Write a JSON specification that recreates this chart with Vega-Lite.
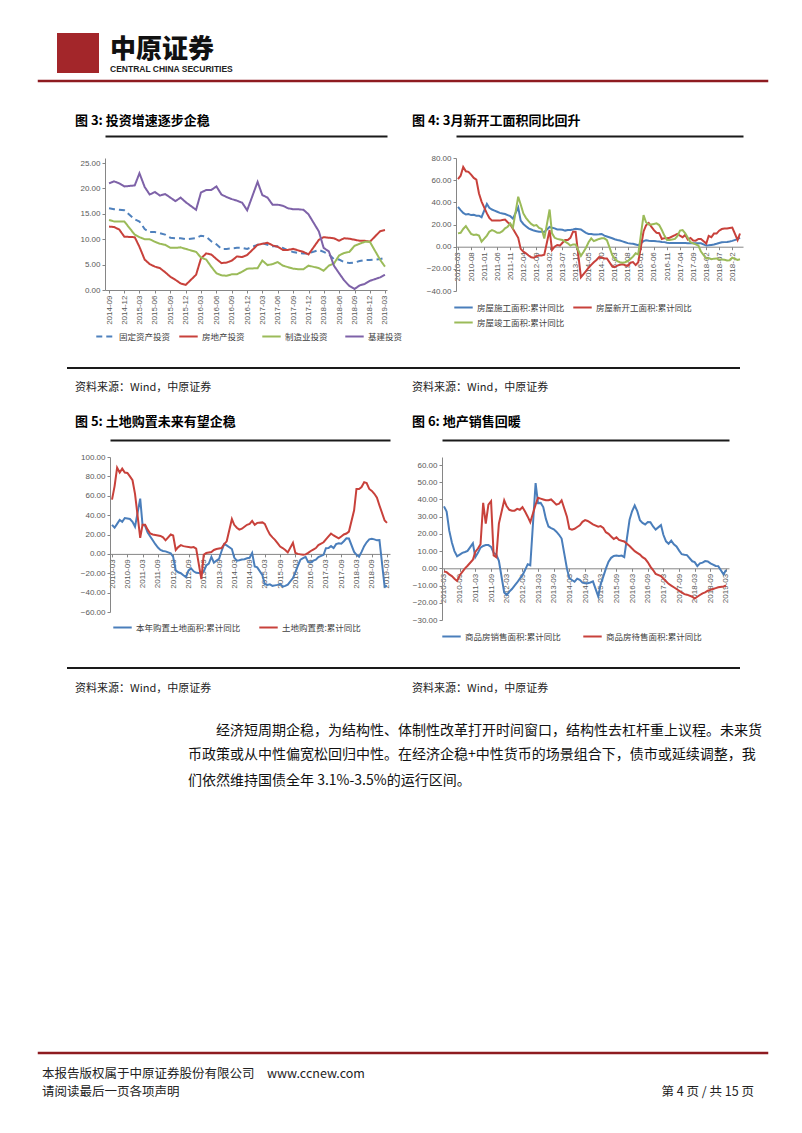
{
"$schema": "https://vega.github.io/schema/vega-lite/v6.json",
"background": "white",
"padding": {"left": 37, "top": 33, "right": 0, "bottom": 0},
"spacing": 0,
"resolve": {"scale": {"color": "independent", "strokeDash": "independent"}, "legend": {"color": "independent", "strokeDash": "independent"}},
"config": {
 "view": {"stroke": null, "fill": null},
 "font": "Noto Sans CJK SC",
 "axis": {"labelFont": "Liberation Sans", "labelFontSize": 8, "labelColor": "#595959", "domainColor": "#868686", "tickColor": "#868686", "tickSize": 3, "grid": false, "labelPadding": 2},
 "legend": {"labelFont": "Noto Sans CJK SC", "labelFontSize": 8.5, "labelColor": "#404040", "symbolStrokeWidth": 2, "symbolSize": 340, "labelOffset": 3, "padding": 0, "rowPadding": 0},
 "title": {"font": "Noto Sans CJK SC", "color": "#000"},
 "concat": {"spacing": 0}
},
"datasets": {
 "sep": [{"k": 0}],
 "names": [{"s":"A","name":"固定资产投资"},{"s":"B","name":"房地产投资"},{"s":"C","name":"制造业投资"},{"s":"D","name":"基建投资"},{"s":"E","name":"房屋施工面积:累计同比"},{"s":"F","name":"房屋新开工面积:累计同比"},{"s":"G","name":"房屋竣工面积:累计同比"},{"s":"H","name":"本年购置土地面积:累计同比"},{"s":"I","name":"土地购置费:累计同比"},{"s":"J","name":"商品房销售面积:累计同比"},{"s":"K","name":"商品房待售面积:累计同比"}],
 "c3": [
{"d":"2014-09","s":"A","v":16.1},{"d":"2014-10","s":"A","v":15.9},{"d":"2014-11","s":"A","v":15.8},{"d":"2014-12","s":"A","v":15.7},
{"d":"2015-02","s":"A","v":13.9},{"d":"2015-03","s":"A","v":13.5},{"d":"2015-04","s":"A","v":12.0},{"d":"2015-05","s":"A","v":11.4},{"d":"2015-06","s":"A","v":11.4},{"d":"2015-07","s":"A","v":11.2},{"d":"2015-08","s":"A","v":10.9},{"d":"2015-09","s":"A","v":10.3},{"d":"2015-10","s":"A","v":10.2},{"d":"2015-11","s":"A","v":10.2},{"d":"2015-12","s":"A","v":10.0},
{"d":"2016-02","s":"A","v":10.2},{"d":"2016-03","s":"A","v":10.7},{"d":"2016-04","s":"A","v":10.5},{"d":"2016-05","s":"A","v":9.6},{"d":"2016-06","s":"A","v":9.0},{"d":"2016-07","s":"A","v":8.1},{"d":"2016-08","s":"A","v":8.1},{"d":"2016-09","s":"A","v":8.2},{"d":"2016-10","s":"A","v":8.3},{"d":"2016-11","s":"A","v":8.3},{"d":"2016-12","s":"A","v":8.1},
{"d":"2017-02","s":"A","v":8.9},{"d":"2017-03","s":"A","v":9.2},{"d":"2017-04","s":"A","v":8.9},{"d":"2017-05","s":"A","v":8.6},{"d":"2017-06","s":"A","v":8.6},{"d":"2017-07","s":"A","v":8.3},{"d":"2017-08","s":"A","v":7.8},{"d":"2017-09","s":"A","v":7.5},{"d":"2017-10","s":"A","v":7.3},{"d":"2017-11","s":"A","v":7.2},{"d":"2017-12","s":"A","v":7.2},
{"d":"2018-02","s":"A","v":7.9},{"d":"2018-03","s":"A","v":7.5},{"d":"2018-04","s":"A","v":7.0},{"d":"2018-05","s":"A","v":6.1},{"d":"2018-06","s":"A","v":6.0},{"d":"2018-07","s":"A","v":5.5},{"d":"2018-08","s":"A","v":5.3},{"d":"2018-09","s":"A","v":5.4},{"d":"2018-10","s":"A","v":5.7},{"d":"2018-11","s":"A","v":5.9},{"d":"2018-12","s":"A","v":5.9},
{"d":"2019-02","s":"A","v":6.1},{"d":"2019-03","s":"A","v":6.3},
{"d":"2014-09","s":"B","v":12.5},{"d":"2014-10","s":"B","v":12.4},{"d":"2014-11","s":"B","v":11.9},{"d":"2014-12","s":"B","v":10.5},
{"d":"2015-02","s":"B","v":10.4},{"d":"2015-03","s":"B","v":8.5},{"d":"2015-04","s":"B","v":6.0},{"d":"2015-05","s":"B","v":5.1},{"d":"2015-06","s":"B","v":4.6},{"d":"2015-07","s":"B","v":4.3},{"d":"2015-08","s":"B","v":3.5},{"d":"2015-09","s":"B","v":2.6},{"d":"2015-10","s":"B","v":2.0},{"d":"2015-11","s":"B","v":1.3},{"d":"2015-12","s":"B","v":1.0},
{"d":"2016-02","s":"B","v":3.0},{"d":"2016-03","s":"B","v":6.2},{"d":"2016-04","s":"B","v":7.2},{"d":"2016-05","s":"B","v":7.0},{"d":"2016-06","s":"B","v":6.1},{"d":"2016-07","s":"B","v":5.3},{"d":"2016-08","s":"B","v":5.4},{"d":"2016-09","s":"B","v":5.8},{"d":"2016-10","s":"B","v":6.6},{"d":"2016-11","s":"B","v":6.5},{"d":"2016-12","s":"B","v":6.9},
{"d":"2017-02","s":"B","v":8.9},{"d":"2017-03","s":"B","v":9.1},{"d":"2017-04","s":"B","v":9.3},{"d":"2017-05","s":"B","v":8.8},{"d":"2017-06","s":"B","v":8.5},{"d":"2017-07","s":"B","v":7.9},{"d":"2017-08","s":"B","v":7.9},{"d":"2017-09","s":"B","v":8.1},{"d":"2017-10","s":"B","v":7.8},{"d":"2017-11","s":"B","v":7.5},{"d":"2017-12","s":"B","v":7.0},
{"d":"2018-02","s":"B","v":9.9},{"d":"2018-03","s":"B","v":10.4},{"d":"2018-04","s":"B","v":10.3},{"d":"2018-05","s":"B","v":10.2},{"d":"2018-06","s":"B","v":9.7},{"d":"2018-07","s":"B","v":10.2},{"d":"2018-08","s":"B","v":10.1},{"d":"2018-09","s":"B","v":9.9},{"d":"2018-10","s":"B","v":9.7},{"d":"2018-11","s":"B","v":9.7},{"d":"2018-12","s":"B","v":9.5},
{"d":"2019-02","s":"B","v":11.6},{"d":"2019-03","s":"B","v":11.8},
{"d":"2014-09","s":"C","v":13.8},{"d":"2014-10","s":"C","v":13.5},{"d":"2014-11","s":"C","v":13.5},{"d":"2014-12","s":"C","v":13.5},
{"d":"2015-02","s":"C","v":10.9},{"d":"2015-03","s":"C","v":10.4},{"d":"2015-04","s":"C","v":10.0},{"d":"2015-05","s":"C","v":10.0},{"d":"2015-06","s":"C","v":9.5},{"d":"2015-07","s":"C","v":9.1},{"d":"2015-08","s":"C","v":8.9},{"d":"2015-09","s":"C","v":8.3},{"d":"2015-10","s":"C","v":8.3},{"d":"2015-11","s":"C","v":8.4},{"d":"2015-12","s":"C","v":8.1},
{"d":"2016-02","s":"C","v":7.5},{"d":"2016-03","s":"C","v":6.4},{"d":"2016-04","s":"C","v":6.0},{"d":"2016-05","s":"C","v":4.6},{"d":"2016-06","s":"C","v":3.3},{"d":"2016-07","s":"C","v":2.9},{"d":"2016-08","s":"C","v":2.8},{"d":"2016-09","s":"C","v":3.1},{"d":"2016-10","s":"C","v":3.1},{"d":"2016-11","s":"C","v":3.6},{"d":"2016-12","s":"C","v":4.2},
{"d":"2017-02","s":"C","v":4.3},{"d":"2017-03","s":"C","v":5.8},{"d":"2017-04","s":"C","v":4.9},{"d":"2017-05","s":"C","v":5.1},{"d":"2017-06","s":"C","v":5.5},{"d":"2017-07","s":"C","v":4.8},{"d":"2017-08","s":"C","v":4.5},{"d":"2017-09","s":"C","v":4.2},{"d":"2017-10","s":"C","v":4.1},{"d":"2017-11","s":"C","v":4.1},{"d":"2017-12","s":"C","v":4.8},
{"d":"2018-02","s":"C","v":4.3},{"d":"2018-03","s":"C","v":3.8},{"d":"2018-04","s":"C","v":4.8},{"d":"2018-05","s":"C","v":5.2},{"d":"2018-06","s":"C","v":6.8},{"d":"2018-07","s":"C","v":7.3},{"d":"2018-08","s":"C","v":7.5},{"d":"2018-09","s":"C","v":8.7},{"d":"2018-10","s":"C","v":9.1},{"d":"2018-11","s":"C","v":9.5},{"d":"2018-12","s":"C","v":9.5},
{"d":"2019-02","s":"C","v":5.9},{"d":"2019-03","s":"C","v":4.6},
{"d":"2014-09","s":"D","v":21.0},{"d":"2014-10","s":"D","v":21.4},{"d":"2014-11","s":"D","v":21.0},{"d":"2014-12","s":"D","v":20.4},
{"d":"2015-02","s":"D","v":20.6},{"d":"2015-03","s":"D","v":23.0},{"d":"2015-04","s":"D","v":20.3},{"d":"2015-05","s":"D","v":18.8},{"d":"2015-06","s":"D","v":19.3},{"d":"2015-07","s":"D","v":18.6},{"d":"2015-08","s":"D","v":18.9},{"d":"2015-09","s":"D","v":18.2},{"d":"2015-10","s":"D","v":17.5},{"d":"2015-11","s":"D","v":18.2},{"d":"2015-12","s":"D","v":17.3},
{"d":"2016-02","s":"D","v":15.8},{"d":"2016-03","s":"D","v":19.2},{"d":"2016-04","s":"D","v":19.7},{"d":"2016-05","s":"D","v":19.7},{"d":"2016-06","s":"D","v":20.4},{"d":"2016-07","s":"D","v":18.8},{"d":"2016-08","s":"D","v":18.3},{"d":"2016-09","s":"D","v":17.9},{"d":"2016-10","s":"D","v":17.6},{"d":"2016-11","s":"D","v":17.2},{"d":"2016-12","s":"D","v":15.7},
{"d":"2017-02","s":"D","v":21.3},{"d":"2017-03","s":"D","v":18.7},{"d":"2017-04","s":"D","v":18.2},{"d":"2017-05","s":"D","v":16.8},{"d":"2017-06","s":"D","v":16.8},{"d":"2017-07","s":"D","v":16.6},{"d":"2017-08","s":"D","v":16.1},{"d":"2017-09","s":"D","v":15.9},{"d":"2017-10","s":"D","v":15.9},{"d":"2017-11","s":"D","v":15.8},{"d":"2017-12","s":"D","v":14.9},
{"d":"2018-02","s":"D","v":11.5},{"d":"2018-03","s":"D","v":8.3},{"d":"2018-04","s":"D","v":7.6},{"d":"2018-05","s":"D","v":4.8},{"d":"2018-06","s":"D","v":3.3},{"d":"2018-07","s":"D","v":1.9},{"d":"2018-08","s":"D","v":0.8},{"d":"2018-09","s":"D","v":0.2},{"d":"2018-10","s":"D","v":0.9},{"d":"2018-11","s":"D","v":1.2},{"d":"2018-12","s":"D","v":1.8},
{"d":"2019-02","s":"D","v":2.5},{"d":"2019-03","s":"D","v":3.0}
 ],
 "c4": [
{"d":"2010-03","s":"E","v":36},{"d":"2010-04","s":"E","v":33},{"d":"2010-05","s":"E","v":30.5},{"d":"2010-06","s":"E","v":29},{"d":"2010-07","s":"E","v":29.5},{"d":"2010-08","s":"E","v":28.5},{"d":"2010-09","s":"E","v":28.8},{"d":"2010-10","s":"E","v":28},{"d":"2010-11","s":"E","v":28},{"d":"2010-12","s":"E","v":26.6},
{"d":"2011-02","s":"E","v":38.6},{"d":"2011-03","s":"E","v":35},{"d":"2011-04","s":"E","v":33.5},{"d":"2011-05","s":"E","v":32.5},{"d":"2011-06","s":"E","v":31.5},{"d":"2011-07","s":"E","v":30.5},{"d":"2011-08","s":"E","v":30},{"d":"2011-09","s":"E","v":29.5},{"d":"2011-10","s":"E","v":28.5},{"d":"2011-11","s":"E","v":27.5},{"d":"2011-12","s":"E","v":25.3},
{"d":"2012-02","s":"E","v":35.3},{"d":"2012-03","s":"E","v":23.5},{"d":"2012-04","s":"E","v":20.5},{"d":"2012-05","s":"E","v":18.5},{"d":"2012-06","s":"E","v":16.5},{"d":"2012-07","s":"E","v":15.5},{"d":"2012-08","s":"E","v":14.5},{"d":"2012-09","s":"E","v":14},{"d":"2012-10","s":"E","v":13.5},{"d":"2012-11","s":"E","v":13.5},{"d":"2012-12","s":"E","v":13.2},
{"d":"2013-02","s":"E","v":17.8},{"d":"2013-03","s":"E","v":17},{"d":"2013-04","s":"E","v":16.5},{"d":"2013-05","s":"E","v":15.5},{"d":"2013-06","s":"E","v":15.5},{"d":"2013-07","s":"E","v":15.2},{"d":"2013-08","s":"E","v":14.5},{"d":"2013-09","s":"E","v":15},{"d":"2013-10","s":"E","v":15},{"d":"2013-11","s":"E","v":15.5},{"d":"2013-12","s":"E","v":16.1},
{"d":"2014-02","s":"E","v":15.5},{"d":"2014-03","s":"E","v":14},{"d":"2014-04","s":"E","v":12.5},{"d":"2014-05","s":"E","v":11.5},{"d":"2014-06","s":"E","v":11.5},{"d":"2014-07","s":"E","v":11},{"d":"2014-08","s":"E","v":11},{"d":"2014-09","s":"E","v":11.2},{"d":"2014-10","s":"E","v":11.5},{"d":"2014-11","s":"E","v":10},{"d":"2014-12","s":"E","v":9.2},
{"d":"2015-02","s":"E","v":7.6},{"d":"2015-03","s":"E","v":6.7},{"d":"2015-04","s":"E","v":6.0},{"d":"2015-05","s":"E","v":5.5},{"d":"2015-06","s":"E","v":4.8},{"d":"2015-07","s":"E","v":4.0},{"d":"2015-08","s":"E","v":3.2},{"d":"2015-09","s":"E","v":2.8},{"d":"2015-10","s":"E","v":2.7},{"d":"2015-11","s":"E","v":2.0},{"d":"2015-12","s":"E","v":1.3},
{"d":"2016-02","s":"E","v":5.0},{"d":"2016-03","s":"E","v":5.8},{"d":"2016-04","s":"E","v":5.3},{"d":"2016-05","s":"E","v":5.2},{"d":"2016-06","s":"E","v":5.1},{"d":"2016-07","s":"E","v":4.8},{"d":"2016-08","s":"E","v":4.6},{"d":"2016-09","s":"E","v":4.3},{"d":"2016-10","s":"E","v":4.1},{"d":"2016-11","s":"E","v":3.6},{"d":"2016-12","s":"E","v":3.2},
{"d":"2017-02","s":"E","v":3.2},{"d":"2017-03","s":"E","v":3.2},{"d":"2017-04","s":"E","v":3.3},{"d":"2017-05","s":"E","v":3.2},{"d":"2017-06","s":"E","v":3.2},{"d":"2017-07","s":"E","v":3.1},{"d":"2017-08","s":"E","v":3.0},{"d":"2017-09","s":"E","v":3.0},{"d":"2017-10","s":"E","v":3.0},{"d":"2017-11","s":"E","v":3.0},{"d":"2017-12","s":"E","v":3.0},
{"d":"2018-02","s":"E","v":1.0},{"d":"2018-03","s":"E","v":1.2},{"d":"2018-04","s":"E","v":1.6},{"d":"2018-05","s":"E","v":2.0},{"d":"2018-06","s":"E","v":2.6},{"d":"2018-07","s":"E","v":3.3},{"d":"2018-08","s":"E","v":3.9},{"d":"2018-09","s":"E","v":4.1},{"d":"2018-10","s":"E","v":4.3},{"d":"2018-11","s":"E","v":4.6},{"d":"2018-12","s":"E","v":5.2},
{"d":"2019-02","s":"E","v":6.8},{"d":"2019-03","s":"E","v":8.2},
{"d":"2010-03","s":"F","v":61},{"d":"2010-04","s":"F","v":64},{"d":"2010-05","s":"F","v":72},{"d":"2010-06","s":"F","v":68},{"d":"2010-07","s":"F","v":67.5},{"d":"2010-08","s":"F","v":65},{"d":"2010-09","s":"F","v":62},{"d":"2010-10","s":"F","v":60.5},{"d":"2010-11","s":"F","v":48},{"d":"2010-12","s":"F","v":40.7},
{"d":"2011-02","s":"F","v":30},{"d":"2011-03","s":"F","v":26},{"d":"2011-04","s":"F","v":23.5},{"d":"2011-05","s":"F","v":23.5},{"d":"2011-06","s":"F","v":23.5},{"d":"2011-07","s":"F","v":23.5},{"d":"2011-08","s":"F","v":24},{"d":"2011-09","s":"F","v":24.5},{"d":"2011-10","s":"F","v":22},{"d":"2011-11","s":"F","v":20},{"d":"2011-12","s":"F","v":16.2},
{"d":"2012-02","s":"F","v":8},{"d":"2012-03","s":"F","v":-2},{"d":"2012-04","s":"F","v":-4.5},{"d":"2012-05","s":"F","v":-6},{"d":"2012-06","s":"F","v":-8},{"d":"2012-07","s":"F","v":-9.5},{"d":"2012-08","s":"F","v":-10},{"d":"2012-09","s":"F","v":-8.5},{"d":"2012-10","s":"F","v":-8},{"d":"2012-11","s":"F","v":-8},{"d":"2012-12","s":"F","v":-7.3},
{"d":"2013-02","s":"F","v":15},{"d":"2013-03","s":"F","v":-3},{"d":"2013-04","s":"F","v":0},{"d":"2013-05","s":"F","v":1.5},{"d":"2013-06","s":"F","v":1},{"d":"2013-07","s":"F","v":3.5},{"d":"2013-08","s":"F","v":6},{"d":"2013-09","s":"F","v":6},{"d":"2013-10","s":"F","v":8},{"d":"2013-11","s":"F","v":13.5},{"d":"2013-12","s":"F","v":13.5},
{"d":"2014-02","s":"F","v":-27.6},{"d":"2014-03","s":"F","v":-25},{"d":"2014-04","s":"F","v":-22},{"d":"2014-05","s":"F","v":-19},{"d":"2014-06","s":"F","v":-16.4},{"d":"2014-07","s":"F","v":-14},{"d":"2014-08","s":"F","v":-12},{"d":"2014-09","s":"F","v":-9.3},{"d":"2014-10","s":"F","v":-9.7},{"d":"2014-11","s":"F","v":-10.7},{"d":"2014-12","s":"F","v":-10.7},
{"d":"2015-02","s":"F","v":-17.7},{"d":"2015-03","s":"F","v":-18.4},{"d":"2015-04","s":"F","v":-17.1},{"d":"2015-05","s":"F","v":-16.3},{"d":"2015-06","s":"F","v":-15.8},{"d":"2015-07","s":"F","v":-16.8},{"d":"2015-08","s":"F","v":-17.4},{"d":"2015-09","s":"F","v":-14.5},{"d":"2015-10","s":"F","v":-13.9},{"d":"2015-11","s":"F","v":-16.6},{"d":"2015-12","s":"F","v":-14.0},
{"d":"2016-02","s":"F","v":13.7},{"d":"2016-03","s":"F","v":19.2},{"d":"2016-04","s":"F","v":21.4},{"d":"2016-05","s":"F","v":18.1},{"d":"2016-06","s":"F","v":14.9},{"d":"2016-07","s":"F","v":12.5},{"d":"2016-08","s":"F","v":12.2},{"d":"2016-09","s":"F","v":6.9},{"d":"2016-10","s":"F","v":7.7},{"d":"2016-11","s":"F","v":7.6},{"d":"2016-12","s":"F","v":8.1},
{"d":"2017-02","s":"F","v":10.4},{"d":"2017-03","s":"F","v":11.6},{"d":"2017-04","s":"F","v":9.9},{"d":"2017-05","s":"F","v":8.4},{"d":"2017-06","s":"F","v":10.6},{"d":"2017-07","s":"F","v":6.4},{"d":"2017-08","s":"F","v":7.9},{"d":"2017-09","s":"F","v":5.6},{"d":"2017-10","s":"F","v":5.4},{"d":"2017-11","s":"F","v":6.9},{"d":"2017-12","s":"F","v":7.0},
{"d":"2018-02","s":"F","v":2.9},{"d":"2018-03","s":"F","v":9.7},{"d":"2018-04","s":"F","v":8.5},{"d":"2018-05","s":"F","v":11.8},{"d":"2018-06","s":"F","v":11.8},{"d":"2018-07","s":"F","v":14.4},{"d":"2018-08","s":"F","v":15.9},{"d":"2018-09","s":"F","v":16.4},{"d":"2018-10","s":"F","v":16.3},{"d":"2018-11","s":"F","v":16.8},{"d":"2018-12","s":"F","v":17.2},
{"d":"2019-02","s":"F","v":6.0},{"d":"2019-03","s":"F","v":11.9},
{"d":"2010-03","s":"G","v":12},{"d":"2010-04","s":"G","v":12.5},{"d":"2010-05","s":"G","v":16},{"d":"2010-06","s":"G","v":18.5},{"d":"2010-07","s":"G","v":15},{"d":"2010-08","s":"G","v":11.5},{"d":"2010-09","s":"G","v":10.5},{"d":"2010-10","s":"G","v":11},{"d":"2010-11","s":"G","v":10},{"d":"2010-12","s":"G","v":4.5},
{"d":"2011-02","s":"G","v":10},{"d":"2011-03","s":"G","v":13.5},{"d":"2011-04","s":"G","v":15},{"d":"2011-05","s":"G","v":14},{"d":"2011-06","s":"G","v":12.5},{"d":"2011-07","s":"G","v":12.5},{"d":"2011-08","s":"G","v":14},{"d":"2011-09","s":"G","v":16.5},{"d":"2011-10","s":"G","v":18},{"d":"2011-11","s":"G","v":21},{"d":"2011-12","s":"G","v":17},
{"d":"2012-02","s":"G","v":45},{"d":"2012-03","s":"G","v":38},{"d":"2012-04","s":"G","v":30},{"d":"2012-05","s":"G","v":26},{"d":"2012-06","s":"G","v":23},{"d":"2012-07","s":"G","v":20.5},{"d":"2012-08","s":"G","v":19},{"d":"2012-09","s":"G","v":19.5},{"d":"2012-10","s":"G","v":17},{"d":"2012-11","s":"G","v":16},{"d":"2012-12","s":"G","v":7.3},
{"d":"2013-02","s":"G","v":33.5},{"d":"2013-03","s":"G","v":12},{"d":"2013-04","s":"G","v":8},{"d":"2013-05","s":"G","v":7},{"d":"2013-06","s":"G","v":6.5},{"d":"2013-07","s":"G","v":6},{"d":"2013-08","s":"G","v":4.5},{"d":"2013-09","s":"G","v":3},{"d":"2013-10","s":"G","v":1},{"d":"2013-11","s":"G","v":2},{"d":"2013-12","s":"G","v":2},
{"d":"2014-02","s":"G","v":-8.3},{"d":"2014-03","s":"G","v":-5},{"d":"2014-04","s":"G","v":-1},{"d":"2014-05","s":"G","v":4},{"d":"2014-06","s":"G","v":7.5},{"d":"2014-07","s":"G","v":5},{"d":"2014-08","s":"G","v":6},{"d":"2014-09","s":"G","v":7},{"d":"2014-10","s":"G","v":7.5},{"d":"2014-11","s":"G","v":7.5},{"d":"2014-12","s":"G","v":5.9},
{"d":"2015-02","s":"G","v":-7.5},{"d":"2015-03","s":"G","v":-11},{"d":"2015-04","s":"G","v":-13},{"d":"2015-05","s":"G","v":-14},{"d":"2015-06","s":"G","v":-14.5},{"d":"2015-07","s":"G","v":-14},{"d":"2015-08","s":"G","v":-13},{"d":"2015-09","s":"G","v":-11},{"d":"2015-10","s":"G","v":-9},{"d":"2015-11","s":"G","v":-6},{"d":"2015-12","s":"G","v":-6.9},
{"d":"2016-02","s":"G","v":28.5},{"d":"2016-03","s":"G","v":22},{"d":"2016-04","s":"G","v":20},{"d":"2016-05","s":"G","v":20},{"d":"2016-06","s":"G","v":20.5},{"d":"2016-07","s":"G","v":21},{"d":"2016-08","s":"G","v":19.5},{"d":"2016-09","s":"G","v":15},{"d":"2016-10","s":"G","v":10},{"d":"2016-11","s":"G","v":6},{"d":"2016-12","s":"G","v":6.1},
{"d":"2017-02","s":"G","v":7},{"d":"2017-03","s":"G","v":9.5},{"d":"2017-04","s":"G","v":14.5},{"d":"2017-05","s":"G","v":15},{"d":"2017-06","s":"G","v":12},{"d":"2017-07","s":"G","v":8},{"d":"2017-08","s":"G","v":4},{"d":"2017-09","s":"G","v":3},{"d":"2017-10","s":"G","v":2},{"d":"2017-11","s":"G","v":1},{"d":"2017-12","s":"G","v":-4.4},
{"d":"2018-02","s":"G","v":-10.8},{"d":"2018-03","s":"G","v":-10.3},{"d":"2018-04","s":"G","v":-11.3},{"d":"2018-05","s":"G","v":-10.8},{"d":"2018-06","s":"G","v":-10.6},{"d":"2018-07","s":"G","v":-11.6},{"d":"2018-08","s":"G","v":-11.6},{"d":"2018-09","s":"G","v":-11.9},{"d":"2018-10","s":"G","v":-12.5},{"d":"2018-11","s":"G","v":-12.3},{"d":"2018-12","s":"G","v":-10},
{"d":"2019-02","s":"G","v":-11.9},{"d":"2019-03","s":"G","v":-11.4}
 ],
 "c5": [
{"d":"2010-03","s":"H","v":30},{"d":"2010-04","s":"H","v":27},{"d":"2010-05","s":"H","v":31},{"d":"2010-06","s":"H","v":35},{"d":"2010-07","s":"H","v":33},{"d":"2010-08","s":"H","v":37},{"d":"2010-09","s":"H","v":36.5},{"d":"2010-10","s":"H","v":36},{"d":"2010-11","s":"H","v":33},{"d":"2010-12","s":"H","v":28},
{"d":"2011-02","s":"H","v":57},{"d":"2011-03","s":"H","v":30},{"d":"2011-04","s":"H","v":29},{"d":"2011-05","s":"H","v":22},{"d":"2011-06","s":"H","v":18},{"d":"2011-07","s":"H","v":14},{"d":"2011-08","s":"H","v":10},{"d":"2011-09","s":"H","v":6.5},{"d":"2011-10","s":"H","v":4},{"d":"2011-11","s":"H","v":3},{"d":"2011-12","s":"H","v":2.6},
{"d":"2012-02","s":"H","v":0.5},{"d":"2012-03","s":"H","v":-3},{"d":"2012-04","s":"H","v":-17},{"d":"2012-05","s":"H","v":-19},{"d":"2012-06","s":"H","v":-20},{"d":"2012-07","s":"H","v":-22},{"d":"2012-08","s":"H","v":-24},{"d":"2012-09","s":"H","v":-17},{"d":"2012-10","s":"H","v":-15},{"d":"2012-11","s":"H","v":-18},{"d":"2012-12","s":"H","v":-19.5},
{"d":"2013-02","s":"H","v":-20},{"d":"2013-03","s":"H","v":-18},{"d":"2013-04","s":"H","v":-12},{"d":"2013-05","s":"H","v":-10},{"d":"2013-06","s":"H","v":-3},{"d":"2013-07","s":"H","v":-9},{"d":"2013-08","s":"H","v":-7},{"d":"2013-09","s":"H","v":-5},{"d":"2013-10","s":"H","v":3},{"d":"2013-11","s":"H","v":10},{"d":"2013-12","s":"H","v":8.8},
{"d":"2014-02","s":"H","v":5},{"d":"2014-03","s":"H","v":-3.8},{"d":"2014-04","s":"H","v":-7},{"d":"2014-05","s":"H","v":-6.5},{"d":"2014-06","s":"H","v":-5.8},{"d":"2014-07","s":"H","v":-5.5},{"d":"2014-08","s":"H","v":-4.5},{"d":"2014-09","s":"H","v":-4},{"d":"2014-10","s":"H","v":1},{"d":"2014-11","s":"H","v":-13},{"d":"2014-12","s":"H","v":-14},
{"d":"2015-02","s":"H","v":-22},{"d":"2015-03","s":"H","v":-31},{"d":"2015-04","s":"H","v":-32},{"d":"2015-05","s":"H","v":-31.5},{"d":"2015-06","s":"H","v":-33},{"d":"2015-07","s":"H","v":-32.5},{"d":"2015-08","s":"H","v":-32},{"d":"2015-09","s":"H","v":-31},{"d":"2015-10","s":"H","v":-33.8},{"d":"2015-11","s":"H","v":-33},{"d":"2015-12","s":"H","v":-31.7},
{"d":"2016-02","s":"H","v":-25},{"d":"2016-03","s":"H","v":-19},{"d":"2016-04","s":"H","v":-12},{"d":"2016-05","s":"H","v":-6},{"d":"2016-06","s":"H","v":-4.5},{"d":"2016-07","s":"H","v":-3},{"d":"2016-08","s":"H","v":-8.5},{"d":"2016-09","s":"H","v":-8.9},{"d":"2016-10","s":"H","v":-7},{"d":"2016-11","s":"H","v":-6},{"d":"2016-12","s":"H","v":-3.4},
{"d":"2017-02","s":"H","v":-1},{"d":"2017-03","s":"H","v":5.8},{"d":"2017-04","s":"H","v":6},{"d":"2017-05","s":"H","v":8},{"d":"2017-06","s":"H","v":6},{"d":"2017-07","s":"H","v":10},{"d":"2017-08","s":"H","v":11},{"d":"2017-09","s":"H","v":10.5},{"d":"2017-10","s":"H","v":13},{"d":"2017-11","s":"H","v":16},{"d":"2017-12","s":"H","v":15.8},
{"d":"2018-02","s":"H","v":2},{"d":"2018-03","s":"H","v":-1},{"d":"2018-04","s":"H","v":-3},{"d":"2018-05","s":"H","v":2},{"d":"2018-06","s":"H","v":8},{"d":"2018-07","s":"H","v":12},{"d":"2018-08","s":"H","v":15},{"d":"2018-09","s":"H","v":15.5},{"d":"2018-10","s":"H","v":15},{"d":"2018-11","s":"H","v":14},{"d":"2018-12","s":"H","v":14.2},
{"d":"2019-02","s":"H","v":-34},{"d":"2019-03","s":"H","v":-33.1},
{"d":"2010-03","s":"I","v":56},{"d":"2010-04","s":"I","v":70},{"d":"2010-05","s":"I","v":89},{"d":"2010-06","s":"I","v":84},{"d":"2010-07","s":"I","v":88},{"d":"2010-08","s":"I","v":84},{"d":"2010-09","s":"I","v":83.5},{"d":"2010-10","s":"I","v":80},{"d":"2010-11","s":"I","v":76},{"d":"2010-12","s":"I","v":62},
{"d":"2011-02","s":"I","v":16.5},{"d":"2011-03","s":"I","v":30},{"d":"2011-04","s":"I","v":30},{"d":"2011-05","s":"I","v":25},{"d":"2011-06","s":"I","v":21},{"d":"2011-07","s":"I","v":20},{"d":"2011-08","s":"I","v":19.5},{"d":"2011-09","s":"I","v":19},{"d":"2011-10","s":"I","v":18.5},{"d":"2011-11","s":"I","v":17},{"d":"2011-12","s":"I","v":14},
{"d":"2012-02","s":"I","v":20},{"d":"2012-03","s":"I","v":19},{"d":"2012-04","s":"I","v":4},{"d":"2012-05","s":"I","v":7},{"d":"2012-06","s":"I","v":9},{"d":"2012-07","s":"I","v":8},{"d":"2012-08","s":"I","v":7.5},{"d":"2012-09","s":"I","v":7},{"d":"2012-10","s":"I","v":6.5},{"d":"2012-11","s":"I","v":7},{"d":"2012-12","s":"I","v":5.5},
{"d":"2013-02","s":"I","v":-26},{"d":"2013-03","s":"I","v":-1},{"d":"2013-04","s":"I","v":1},{"d":"2013-05","s":"I","v":1.5},{"d":"2013-06","s":"I","v":2},{"d":"2013-07","s":"I","v":4},{"d":"2013-08","s":"I","v":5},{"d":"2013-09","s":"I","v":5.5},{"d":"2013-10","s":"I","v":6},{"d":"2013-11","s":"I","v":10},{"d":"2013-12","s":"I","v":13},
{"d":"2014-02","s":"I","v":36},{"d":"2014-03","s":"I","v":30},{"d":"2014-04","s":"I","v":27},{"d":"2014-05","s":"I","v":25},{"d":"2014-06","s":"I","v":26},{"d":"2014-07","s":"I","v":28},{"d":"2014-08","s":"I","v":30},{"d":"2014-09","s":"I","v":31},{"d":"2014-10","s":"I","v":34},{"d":"2014-11","s":"I","v":30},{"d":"2014-12","s":"I","v":32},
{"d":"2015-02","s":"I","v":32.5},{"d":"2015-03","s":"I","v":31},{"d":"2015-04","s":"I","v":25},{"d":"2015-05","s":"I","v":20},{"d":"2015-06","s":"I","v":17},{"d":"2015-07","s":"I","v":14.5},{"d":"2015-08","s":"I","v":11},{"d":"2015-09","s":"I","v":7.5},{"d":"2015-10","s":"I","v":6},{"d":"2015-11","s":"I","v":4},{"d":"2015-12","s":"I","v":1.5},
{"d":"2016-02","s":"I","v":11.5},{"d":"2016-03","s":"I","v":1},{"d":"2016-04","s":"I","v":0},{"d":"2016-05","s":"I","v":-0.5},{"d":"2016-06","s":"I","v":-1},{"d":"2016-07","s":"I","v":-0.5},{"d":"2016-08","s":"I","v":1},{"d":"2016-09","s":"I","v":3},{"d":"2016-10","s":"I","v":4.5},{"d":"2016-11","s":"I","v":6},{"d":"2016-12","s":"I","v":9},
{"d":"2017-02","s":"I","v":12},{"d":"2017-03","s":"I","v":15},{"d":"2017-04","s":"I","v":18},{"d":"2017-05","s":"I","v":21},{"d":"2017-06","s":"I","v":19},{"d":"2017-07","s":"I","v":17.5},{"d":"2017-08","s":"I","v":16},{"d":"2017-09","s":"I","v":18},{"d":"2017-10","s":"I","v":20},{"d":"2017-11","s":"I","v":21},{"d":"2017-12","s":"I","v":23},
{"d":"2018-02","s":"I","v":45},{"d":"2018-03","s":"I","v":67},{"d":"2018-04","s":"I","v":67},{"d":"2018-05","s":"I","v":69},{"d":"2018-06","s":"I","v":74},{"d":"2018-07","s":"I","v":73},{"d":"2018-08","s":"I","v":67},{"d":"2018-09","s":"I","v":65},{"d":"2018-10","s":"I","v":62},{"d":"2018-11","s":"I","v":58},{"d":"2018-12","s":"I","v":50},
{"d":"2019-02","s":"I","v":34.5},{"d":"2019-03","s":"I","v":32}
 ],
 "c6": [
{"d":"2010-03","s":"J","v":36},{"d":"2010-04","s":"J","v":33},{"d":"2010-05","s":"J","v":22},{"d":"2010-06","s":"J","v":15},{"d":"2010-07","s":"J","v":10},{"d":"2010-08","s":"J","v":7},{"d":"2010-09","s":"J","v":8},{"d":"2010-10","s":"J","v":9},{"d":"2010-11","s":"J","v":9.5},{"d":"2010-12","s":"J","v":10.1},
{"d":"2011-02","s":"J","v":14.5},{"d":"2011-03","s":"J","v":6.5},{"d":"2011-04","s":"J","v":9},{"d":"2011-05","s":"J","v":12},{"d":"2011-06","s":"J","v":13},{"d":"2011-07","s":"J","v":13.5},{"d":"2011-08","s":"J","v":13.5},{"d":"2011-09","s":"J","v":12.5},{"d":"2011-10","s":"J","v":9},{"d":"2011-11","s":"J","v":8},{"d":"2011-12","s":"J","v":4.4},
{"d":"2012-02","s":"J","v":-14},{"d":"2012-03","s":"J","v":-15.5},{"d":"2012-04","s":"J","v":-13.5},{"d":"2012-05","s":"J","v":-12},{"d":"2012-06","s":"J","v":-10},{"d":"2012-07","s":"J","v":-8.2},{"d":"2012-08","s":"J","v":-6},{"d":"2012-09","s":"J","v":-4},{"d":"2012-10","s":"J","v":-1},{"d":"2012-11","s":"J","v":2.4},{"d":"2012-12","s":"J","v":1.8},
{"d":"2013-02","s":"J","v":49.5},{"d":"2013-03","s":"J","v":37.9},{"d":"2013-04","s":"J","v":38},{"d":"2013-05","s":"J","v":35.6},{"d":"2013-06","s":"J","v":28.7},{"d":"2013-07","s":"J","v":24.3},{"d":"2013-08","s":"J","v":23.4},{"d":"2013-09","s":"J","v":22.7},{"d":"2013-10","s":"J","v":21.3},{"d":"2013-11","s":"J","v":19.5},{"d":"2013-12","s":"J","v":17.3},
{"d":"2014-02","s":"J","v":-0.1},{"d":"2014-03","s":"J","v":-5.7},{"d":"2014-04","s":"J","v":-6.8},{"d":"2014-05","s":"J","v":-7.8},{"d":"2014-06","s":"J","v":-6},{"d":"2014-07","s":"J","v":-6.7},{"d":"2014-08","s":"J","v":-8.3},{"d":"2014-09","s":"J","v":-8.6},{"d":"2014-10","s":"J","v":-8.7},{"d":"2014-11","s":"J","v":-8.2},{"d":"2014-12","s":"J","v":-7.6},
{"d":"2015-02","s":"J","v":-16.3},{"d":"2015-03","s":"J","v":-9.2},{"d":"2015-04","s":"J","v":-4.8},{"d":"2015-05","s":"J","v":-0.2},{"d":"2015-06","s":"J","v":3.9},{"d":"2015-07","s":"J","v":6.1},{"d":"2015-08","s":"J","v":7.2},{"d":"2015-09","s":"J","v":7.5},{"d":"2015-10","s":"J","v":7.2},{"d":"2015-11","s":"J","v":7.4},{"d":"2015-12","s":"J","v":6.5},
{"d":"2016-02","s":"J","v":28.2},{"d":"2016-03","s":"J","v":33.1},{"d":"2016-04","s":"J","v":36.5},{"d":"2016-05","s":"J","v":33.2},{"d":"2016-06","s":"J","v":27.9},{"d":"2016-07","s":"J","v":26.4},{"d":"2016-08","s":"J","v":25.5},{"d":"2016-09","s":"J","v":26.9},{"d":"2016-10","s":"J","v":26.8},{"d":"2016-11","s":"J","v":24.3},{"d":"2016-12","s":"J","v":22.5},
{"d":"2017-02","s":"J","v":25.1},{"d":"2017-03","s":"J","v":19.5},{"d":"2017-04","s":"J","v":15.7},{"d":"2017-05","s":"J","v":14.3},{"d":"2017-06","s":"J","v":16.1},{"d":"2017-07","s":"J","v":14.0},{"d":"2017-08","s":"J","v":12.7},{"d":"2017-09","s":"J","v":10.3},{"d":"2017-10","s":"J","v":8.2},{"d":"2017-11","s":"J","v":7.9},{"d":"2017-12","s":"J","v":7.7},
{"d":"2018-02","s":"J","v":4.1},{"d":"2018-03","s":"J","v":3.6},{"d":"2018-04","s":"J","v":1.3},{"d":"2018-05","s":"J","v":2.9},{"d":"2018-06","s":"J","v":3.3},{"d":"2018-07","s":"J","v":4.2},{"d":"2018-08","s":"J","v":4.0},{"d":"2018-09","s":"J","v":2.9},{"d":"2018-10","s":"J","v":2.2},{"d":"2018-11","s":"J","v":1.4},{"d":"2018-12","s":"J","v":1.3},
{"d":"2019-02","s":"J","v":-3.6},{"d":"2019-03","s":"J","v":-0.9},
{"d":"2010-03","s":"K","v":-1.8},{"d":"2010-04","s":"K","v":-2.2},{"d":"2010-05","s":"K","v":-3.5},{"d":"2010-06","s":"K","v":-4.5},{"d":"2010-07","s":"K","v":-6},{"d":"2010-08","s":"K","v":-7.3},{"d":"2010-09","s":"K","v":-4},{"d":"2010-10","s":"K","v":-2},{"d":"2010-11","s":"K","v":0},{"d":"2010-12","s":"K","v":1.5},
{"d":"2011-02","s":"K","v":5},{"d":"2011-03","s":"K","v":9.5},{"d":"2011-04","s":"K","v":11.5},{"d":"2011-05","s":"K","v":14},{"d":"2011-06","s":"K","v":38},{"d":"2011-07","s":"K","v":26},{"d":"2011-08","s":"K","v":37},{"d":"2011-09","s":"K","v":39},{"d":"2011-10","s":"K","v":7.5},{"d":"2011-11","s":"K","v":6.5},{"d":"2011-12","s":"K","v":26},
{"d":"2012-02","s":"K","v":39.5},{"d":"2012-03","s":"K","v":36},{"d":"2012-04","s":"K","v":34},{"d":"2012-05","s":"K","v":33.5},{"d":"2012-06","s":"K","v":33.5},{"d":"2012-07","s":"K","v":34.5},{"d":"2012-08","s":"K","v":34},{"d":"2012-09","s":"K","v":35.5},{"d":"2012-10","s":"K","v":33},{"d":"2012-11","s":"K","v":30},{"d":"2012-12","s":"K","v":26.8},
{"d":"2013-02","s":"K","v":37},{"d":"2013-03","s":"K","v":41},{"d":"2013-04","s":"K","v":40.5},{"d":"2013-05","s":"K","v":40},{"d":"2013-06","s":"K","v":39.5},{"d":"2013-07","s":"K","v":39.5},{"d":"2013-08","s":"K","v":40},{"d":"2013-09","s":"K","v":38.5},{"d":"2013-10","s":"K","v":37},{"d":"2013-11","s":"K","v":37.5},{"d":"2013-12","s":"K","v":39.5},
{"d":"2014-02","s":"K","v":30},{"d":"2014-03","s":"K","v":23},{"d":"2014-04","s":"K","v":22.5},{"d":"2014-05","s":"K","v":23},{"d":"2014-06","s":"K","v":24},{"d":"2014-07","s":"K","v":25},{"d":"2014-08","s":"K","v":27},{"d":"2014-09","s":"K","v":28},{"d":"2014-10","s":"K","v":27.5},{"d":"2014-11","s":"K","v":26.5},{"d":"2014-12","s":"K","v":25.5},
{"d":"2015-02","s":"K","v":24.2},{"d":"2015-03","s":"K","v":24.5},{"d":"2015-04","s":"K","v":23.5},{"d":"2015-05","s":"K","v":21},{"d":"2015-06","s":"K","v":20},{"d":"2015-07","s":"K","v":18.5},{"d":"2015-08","s":"K","v":17},{"d":"2015-09","s":"K","v":18},{"d":"2015-10","s":"K","v":16.5},{"d":"2015-11","s":"K","v":16},{"d":"2015-12","s":"K","v":15.6},
{"d":"2016-02","s":"K","v":13},{"d":"2016-03","s":"K","v":11.5},{"d":"2016-04","s":"K","v":10},{"d":"2016-05","s":"K","v":9},{"d":"2016-06","s":"K","v":8},{"d":"2016-07","s":"K","v":6.5},{"d":"2016-08","s":"K","v":5.5},{"d":"2016-09","s":"K","v":3.5},{"d":"2016-10","s":"K","v":1},{"d":"2016-11","s":"K","v":-1},{"d":"2016-12","s":"K","v":-3.2},
{"d":"2017-02","s":"K","v":-4.5},{"d":"2017-03","s":"K","v":-6},{"d":"2017-04","s":"K","v":-7.5},{"d":"2017-05","s":"K","v":-9},{"d":"2017-06","s":"K","v":-10},{"d":"2017-07","s":"K","v":-11},{"d":"2017-08","s":"K","v":-12},{"d":"2017-09","s":"K","v":-13},{"d":"2017-10","s":"K","v":-14},{"d":"2017-11","s":"K","v":-15},{"d":"2017-12","s":"K","v":-15.3},
{"d":"2018-02","s":"K","v":-16.5},{"d":"2018-03","s":"K","v":-17.5},{"d":"2018-04","s":"K","v":-16.5},{"d":"2018-05","s":"K","v":-15.5},{"d":"2018-06","s":"K","v":-14.5},{"d":"2018-07","s":"K","v":-14},{"d":"2018-08","s":"K","v":-13},{"d":"2018-09","s":"K","v":-12.5},{"d":"2018-10","s":"K","v":-12},{"d":"2018-11","s":"K","v":-11.5},{"d":"2018-12","s":"K","v":-11},
{"d":"2019-02","s":"K","v":-10.5},{"d":"2019-03","s":"K","v":-10}
 ]
},
"vconcat": [
 {"hconcat": [
   {"width": 18, "height": 1, "data": {"values": []}, "mark": {"type": "text", "text": ""}},
   {"width": 42, "height": 40, "view": {"fill": "#a3262a", "stroke": null}, "data": {"values": []}, "mark": {"type": "text", "text": ""},
    "title": {"text": "中原证券", "subtitle": "CENTRAL CHINA SECURITIES", "orient": "top", "anchor": "start", "offset": -40, "dx": 53, "fontSize": 26, "fontWeight": 900, "color": "#111", "subtitleFont": "Liberation Sans", "subtitleFontSize": 8.5, "subtitleFontWeight": "bold", "subtitleColor": "#222", "subtitlePadding": 2}}
 ], "spacing": 0},
 {"width": 1, "height": 6, "data": {"values": []}, "mark": {"type": "text", "text": ""}},
 {"width": 728, "height": 0.01, "view": {"stroke": "#8e1b20", "strokeWidth": 2.5}, "data": {"values": []}, "mark": {"type": "text", "text": ""}},
 {"width": 1, "height": 32, "data": {"values": []}, "mark": {"type": "text", "text": ""}},
 {"hconcat": [
   {"width": 28, "height": 1, "data": {"values": []}, "mark": {"type": "text", "text": ""}},
   {"width": 337, "height": 0.01, "data": {"values": []}, "mark": {"type": "text", "text": ""},
    "title": {"text": "图 3: 投资增速逐步企稳", "anchor": "start", "dx": 8, "offset": 6, "fontSize": 13, "fontWeight": "bold"}},
   {"width": 334, "height": 0.01, "data": {"values": []}, "mark": {"type": "text", "text": ""},
    "title": {"text": "图 4: 3月新开工面积同比回升", "anchor": "start", "dx": 8, "offset": 6, "fontSize": 13, "fontWeight": "bold"}}
 ], "spacing": 0},
 {"width": 1, "height": 1, "data": {"values": []}, "mark": {"type": "text", "text": ""}},
 {"hconcat": [
   {"width": 28, "height": 1, "data": {"values": []}, "mark": {"type": "text", "text": ""}},
   {"width": 282, "height": 132,
    "layer": [
     {"data": {"name": "c3"},
      "transform": [{"lookup": "s", "from": {"data": {"name": "names"}, "key": "s", "fields": ["name"]}}],
      "mark": {"type": "line", "strokeWidth": 2},
      "encoding": {
       "x": {"field": "d", "type": "temporal",
         "scale": {"type": "utc", "domain": [{"year":2014,"month":8,"date":8,"utc":true},{"year":2019,"month":3,"date":13,"utc":true}]},
         "axis": {"title": null, "format": "%Y-%m", "labelAngle": 270, "labelOverlap": false, "labelFlush": false,
          "values": [{"year":2014,"month":9,"utc":true},{"year":2014,"month":12,"utc":true},{"year":2015,"month":3,"utc":true},{"year":2015,"month":6,"utc":true},{"year":2015,"month":9,"utc":true},{"year":2015,"month":12,"utc":true},{"year":2016,"month":3,"utc":true},{"year":2016,"month":6,"utc":true},{"year":2016,"month":9,"utc":true},{"year":2016,"month":12,"utc":true},{"year":2017,"month":3,"utc":true},{"year":2017,"month":6,"utc":true},{"year":2017,"month":9,"utc":true},{"year":2017,"month":12,"utc":true},{"year":2018,"month":3,"utc":true},{"year":2018,"month":6,"utc":true},{"year":2018,"month":9,"utc":true},{"year":2018,"month":12,"utc":true},{"year":2019,"month":3,"utc":true}]}},
       "y": {"field": "v", "type": "quantitative", "scale": {"domain": [0, 26], "nice": false, "zero": false},
         "axis": {"title": null, "values": [0,5,10,15,20,25], "format": ".2f", "minExtent": 38, "maxExtent": 38}},
       "color": {"field": "name", "type": "nominal",
         "scale": {"domain": ["固定资产投资","房地产投资","制造业投资","基建投资"], "range": ["#4f81bd","#c8413b","#9bbb59","#7e62a8"]},
         "legend": {"title": null, "orient": "none", "legendX": -10, "legendY": 168, "direction": "horizontal", "gridAlign": "all", "columnPadding": 4}},
       "strokeDash": {"field": "name", "type": "nominal",
         "scale": {"domain": ["固定资产投资","房地产投资","制造业投资","基建投资"], "range": [[6,4],[1,0],[1,0],[1,0]]},
         "legend": {"title": null, "orient": "none", "legendX": -10, "legendY": 168, "direction": "horizontal", "gridAlign": "all", "columnPadding": 4}}
      }},
     {"data": {"name": "sep"}, "mark": {"type": "point", "opacity": 0, "size": 0},
      "encoding": {"x": {"field": "k", "type": "quantitative", "scale": {"domain": [0, 1]}, "axis": {"orient": "top", "offset": 22, "domainColor": "#1a1a1a", "domainWidth": 2, "ticks": false, "labels": false, "title": null, "grid": false}}}}
    ],
    "resolve": {"scale": {"x": "independent"}}},
   {"width": 17, "height": 1, "data": {"values": []}, "mark": {"type": "text", "text": ""}},
   {"width": 287, "height": 133,
    "layer": [
     {"data": {"name": "c4"},
      "transform": [{"lookup": "s", "from": {"data": {"name": "names"}, "key": "s", "fields": ["name"]}}],
      "mark": {"type": "line", "strokeWidth": 2},
      "encoding": {
       "x": {"field": "d", "type": "temporal",
         "scale": {"type": "utc", "domain": [{"year":2010,"month":2,"date":6,"utc":true},{"year":2019,"month":4,"date":5,"utc":true}]},
         "axis": {"title": null, "format": "%Y-%m", "labelAngle": 270, "labelOverlap": false, "labelFlush": false, "offset": -44.3,
          "values": [{"year":2010,"month":3,"utc":true},{"year":2010,"month":8,"utc":true},{"year":2011,"month":1,"utc":true},{"year":2011,"month":6,"utc":true},{"year":2011,"month":11,"utc":true},{"year":2012,"month":4,"utc":true},{"year":2012,"month":9,"utc":true},{"year":2013,"month":2,"utc":true},{"year":2013,"month":7,"utc":true},{"year":2013,"month":12,"utc":true},{"year":2014,"month":5,"utc":true},{"year":2014,"month":10,"utc":true},{"year":2015,"month":3,"utc":true},{"year":2015,"month":8,"utc":true},{"year":2016,"month":1,"utc":true},{"year":2016,"month":6,"utc":true},{"year":2016,"month":11,"utc":true},{"year":2017,"month":4,"utc":true},{"year":2017,"month":9,"utc":true},{"year":2018,"month":2,"utc":true},{"year":2018,"month":7,"utc":true},{"year":2018,"month":12,"utc":true}]}},
       "y": {"field": "v", "type": "quantitative", "scale": {"domain": [-40, 80], "nice": false, "zero": false},
         "axis": {"title": null, "values": [-40,-20,0,20,40,60,80], "format": ".2f", "minExtent": 36, "maxExtent": 36}},
       "color": {"field": "name", "type": "nominal",
         "scale": {"domain": ["房屋施工面积:累计同比","房屋新开工面积:累计同比","房屋竣工面积:累计同比"], "range": ["#4a7ebb","#c8413b","#9bbb59"]},
         "legend": {"title": null, "orient": "none", "legendX": -3, "legendY": 139, "direction": "horizontal", "columns": 2, "columnPadding": 4}}
      }},
     {"data": {"name": "sep"}, "mark": {"type": "point", "opacity": 0, "size": 0},
      "encoding": {"x": {"field": "k", "type": "quantitative", "scale": {"domain": [0, 1]}, "axis": {"orient": "top", "offset": 22, "domainColor": "#1a1a1a", "domainWidth": 2, "ticks": false, "labels": false, "title": null, "grid": false}}}}
    ],
    "resolve": {"scale": {"x": "independent"}}}
 ], "spacing": 0, "resolve": {"scale": {"color": "independent", "strokeDash": "independent"}, "legend": {"color": "independent", "strokeDash": "independent"}}},
 {"width": 1, "height": 26, "data": {"values": []}, "mark": {"type": "text", "text": ""}},
 {"hconcat": [
   {"width": 28, "height": 1, "data": {"values": []}, "mark": {"type": "text", "text": ""}},
   {"width": 671, "height": 0.01, "view": {"stroke": "#1a1a1a", "strokeWidth": 2}, "data": {"values": []}, "mark": {"type": "text", "text": ""}}
 ], "spacing": 0},
 {"hconcat": [
   {"width": 28, "height": 1, "data": {"values": []}, "mark": {"type": "text", "text": ""}},
   {"width": 337, "height": 0.01, "data": {"values": []}, "mark": {"type": "text", "text": ""},
    "title": {"text": "资料来源：Wind，中原证券", "orient": "bottom", "anchor": "start", "dx": 8, "offset": 12, "fontSize": 11, "fontWeight": "normal", "color": "#222"}},
   {"width": 334, "height": 0.01, "data": {"values": []}, "mark": {"type": "text", "text": ""},
    "title": {"text": "资料来源：Wind，中原证券", "orient": "bottom", "anchor": "start", "dx": 8, "offset": 12, "fontSize": 11, "fontWeight": "normal", "color": "#222"}}
 ], "spacing": 0},
 {"width": 1, "height": 22, "data": {"values": []}, "mark": {"type": "text", "text": ""}},
 {"hconcat": [
   {"width": 28, "height": 1, "data": {"values": []}, "mark": {"type": "text", "text": ""}},
   {"width": 337, "height": 0.01, "data": {"values": []}, "mark": {"type": "text", "text": ""},
    "title": {"text": "图 5: 土地购置未来有望企稳", "anchor": "start", "dx": 8, "offset": 6, "fontSize": 13, "fontWeight": "bold"}},
   {"width": 334, "height": 0.01, "data": {"values": []}, "mark": {"type": "text", "text": ""},
    "title": {"text": "图 6: 地产销售回暖", "anchor": "start", "dx": 8, "offset": 6, "fontSize": 13, "fontWeight": "bold"}}
 ], "spacing": 0},
 {"width": 1, "height": 4, "data": {"values": []}, "mark": {"type": "text", "text": ""}},
 {"hconcat": [
   {"width": 28, "height": 1, "data": {"values": []}, "mark": {"type": "text", "text": ""}},
   {"width": 280, "height": 155,
    "layer": [
     {"data": {"name": "c5"},
      "transform": [{"lookup": "s", "from": {"data": {"name": "names"}, "key": "s", "fields": ["name"]}}],
      "mark": {"type": "line", "strokeWidth": 2},
      "encoding": {
       "x": {"field": "d", "type": "temporal",
         "scale": {"type": "utc", "domain": [{"year":2010,"month":2,"date":5,"utc":true},{"year":2019,"month":4,"date":6,"utc":true}]},
         "axis": {"title": null, "format": "%Y-%m", "labelAngle": 270, "labelOverlap": false, "labelFlush": false, "offset": -58.1,
          "values": [{"year":2010,"month":3,"utc":true},{"year":2010,"month":9,"utc":true},{"year":2011,"month":3,"utc":true},{"year":2011,"month":9,"utc":true},{"year":2012,"month":3,"utc":true},{"year":2012,"month":9,"utc":true},{"year":2013,"month":3,"utc":true},{"year":2013,"month":9,"utc":true},{"year":2014,"month":3,"utc":true},{"year":2014,"month":9,"utc":true},{"year":2015,"month":3,"utc":true},{"year":2015,"month":9,"utc":true},{"year":2016,"month":3,"utc":true},{"year":2016,"month":9,"utc":true},{"year":2017,"month":3,"utc":true},{"year":2017,"month":9,"utc":true},{"year":2018,"month":3,"utc":true},{"year":2018,"month":9,"utc":true},{"year":2019,"month":3,"utc":true}]}},
       "y": {"field": "v", "type": "quantitative", "scale": {"domain": [-60, 100], "nice": false, "zero": false},
         "axis": {"title": null, "values": [-60,-40,-20,0,20,40,60,80,100], "format": ".2f", "minExtent": 43, "maxExtent": 43}},
       "color": {"field": "name", "type": "nominal",
         "scale": {"domain": ["本年购置土地面积:累计同比","土地购置费:累计同比"], "range": ["#4a7ebb","#c8413b"]},
         "legend": {"title": null, "orient": "none", "legendX": 2, "legendY": 160, "direction": "horizontal", "columnPadding": 14}}
      }},
     {"data": {"name": "sep"}, "mark": {"type": "point", "opacity": 0, "size": 0},
      "encoding": {"x": {"field": "k", "type": "quantitative", "scale": {"domain": [0, 1]}, "axis": {"orient": "top", "offset": 17, "domainColor": "#1a1a1a", "domainWidth": 2, "ticks": false, "labels": false, "title": null, "grid": false}}}}
    ],
    "resolve": {"scale": {"x": "independent"}}},
   {"width": 15, "height": 1, "data": {"values": []}, "mark": {"type": "text", "text": ""}},
   {"width": 287, "height": 163,
    "layer": [
     {"data": {"name": "c6"},
      "transform": [{"lookup": "s", "from": {"data": {"name": "names"}, "key": "s", "fields": ["name"]}}],
      "mark": {"type": "line", "strokeWidth": 2},
      "encoding": {
       "x": {"field": "d", "type": "temporal",
         "scale": {"type": "utc", "domain": [{"year":2010,"month":2,"date":6,"utc":true},{"year":2019,"month":4,"date":5,"utc":true}]},
         "axis": {"title": null, "format": "%Y-%m", "labelAngle": 270, "labelOverlap": false, "labelFlush": false, "offset": -51.7,
          "values": [{"year":2010,"month":3,"utc":true},{"year":2010,"month":9,"utc":true},{"year":2011,"month":3,"utc":true},{"year":2011,"month":9,"utc":true},{"year":2012,"month":3,"utc":true},{"year":2012,"month":9,"utc":true},{"year":2013,"month":3,"utc":true},{"year":2013,"month":9,"utc":true},{"year":2014,"month":3,"utc":true},{"year":2014,"month":9,"utc":true},{"year":2015,"month":3,"utc":true},{"year":2015,"month":9,"utc":true},{"year":2016,"month":3,"utc":true},{"year":2016,"month":9,"utc":true},{"year":2017,"month":3,"utc":true},{"year":2017,"month":9,"utc":true},{"year":2018,"month":3,"utc":true},{"year":2018,"month":9,"utc":true},{"year":2019,"month":3,"utc":true}]}},
       "y": {"field": "v", "type": "quantitative", "scale": {"domain": [-30, 64.65], "nice": false, "zero": false},
         "axis": {"title": null, "values": [-30,-20,-10,0,10,20,30,40,50,60], "format": ".2f", "minExtent": 36, "maxExtent": 36}},
       "color": {"field": "name", "type": "nominal",
         "scale": {"domain": ["商品房销售面积:累计同比","商品房待售面积:累计同比"], "range": ["#4a7ebb","#c8413b"]},
         "legend": {"title": null, "orient": "none", "legendX": -1, "legendY": 169, "direction": "horizontal", "columnPadding": 18}}
      }},
     {"data": {"name": "sep"}, "mark": {"type": "point", "opacity": 0, "size": 0},
      "encoding": {"x": {"field": "k", "type": "quantitative", "scale": {"domain": [0, 1]}, "axis": {"orient": "top", "offset": 17, "domainColor": "#1a1a1a", "domainWidth": 2, "ticks": false, "labels": false, "title": null, "grid": false}}}}
    ],
    "resolve": {"scale": {"x": "independent"}}}
 ], "spacing": 0, "resolve": {"scale": {"color": "independent", "strokeDash": "independent"}, "legend": {"color": "independent", "strokeDash": "independent"}}},
 {"width": 1, "height": 26, "data": {"values": []}, "mark": {"type": "text", "text": ""}},
 {"hconcat": [
   {"width": 28, "height": 1, "data": {"values": []}, "mark": {"type": "text", "text": ""}},
   {"width": 671, "height": 0.01, "view": {"stroke": "#1a1a1a", "strokeWidth": 2}, "data": {"values": []}, "mark": {"type": "text", "text": ""}}
 ], "spacing": 0},
 {"hconcat": [
   {"width": 28, "height": 1, "data": {"values": []}, "mark": {"type": "text", "text": ""}},
   {"width": 337, "height": 0.01, "data": {"values": []}, "mark": {"type": "text", "text": ""},
    "title": {"text": "资料来源：Wind，中原证券", "orient": "bottom", "anchor": "start", "dx": 8, "offset": 12.5, "fontSize": 11, "fontWeight": "normal", "color": "#222"}},
   {"width": 334, "height": 0.01, "data": {"values": []}, "mark": {"type": "text", "text": ""},
    "title": {"text": "资料来源：Wind，中原证券", "orient": "bottom", "anchor": "start", "dx": 8, "offset": 12.5, "fontSize": 11, "fontWeight": "normal", "color": "#222"}}
 ], "spacing": 0},
 {"width": 1, "height": 30, "data": {"values": []}, "mark": {"type": "text", "text": ""}},
 {"hconcat": [
   {"width": 149, "height": 1, "data": {"values": []}, "mark": {"type": "text", "text": ""}},
   {"width": 580, "height": 0.01, "data": {"values": []}, "mark": {"type": "text", "text": ""},
    "title": {"text": "经济短周期企稳，为结构性、体制性改革打开时间窗口，结构性去杠杆重上议程。未来货", "anchor": "start", "dx": 28, "offset": 0, "fontSize": 14, "fontWeight": "normal", "color": "#111"}}
 ], "spacing": 0},
 {"width": 1, "height": 9, "data": {"values": []}, "mark": {"type": "text", "text": ""}},
 {"hconcat": [
   {"width": 149, "height": 1, "data": {"values": []}, "mark": {"type": "text", "text": ""}},
   {"width": 580, "height": 0.01, "data": {"values": []}, "mark": {"type": "text", "text": ""},
    "title": {"text": ["币政策或从中性偏宽松回归中性。在经济企稳+中性货币的场景组合下，债市或延续调整，我", "们依然维持国债全年 3.1%-3.5%的运行区间。"], "anchor": "start", "offset": 0, "fontSize": 14, "fontWeight": "normal", "lineHeight": 26, "color": "#111"}}
 ], "spacing": 0},
 {"width": 1, "height": 262, "data": {"values": []}, "mark": {"type": "text", "text": ""}},
 {"width": 728, "height": 0.01, "view": {"stroke": "#8e1b20", "strokeWidth": 2.5}, "data": {"values": []}, "mark": {"type": "text", "text": ""}},
 {"hconcat": [
   {"width": 500, "height": 0.01, "data": {"values": []}, "mark": {"type": "text", "text": ""},
    "title": {"text": ["本报告版权属于中原证券股份有限公司　www.ccnew.com", "请阅读最后一页各项声明"], "orient": "bottom", "anchor": "start", "dx": 3, "offset": 13, "fontSize": 12.5, "lineHeight": 18, "fontWeight": "normal", "color": "#222"}},
   {"width": 228, "height": 0.01, "data": {"values": []}, "mark": {"type": "text", "text": ""},
    "title": {"text": "第 4 页 / 共 15 页", "orient": "bottom", "anchor": "end", "dx": -13, "offset": 31, "fontSize": 12.5, "fontWeight": "normal", "color": "#222"}}
 ], "spacing": 0}
]
}
